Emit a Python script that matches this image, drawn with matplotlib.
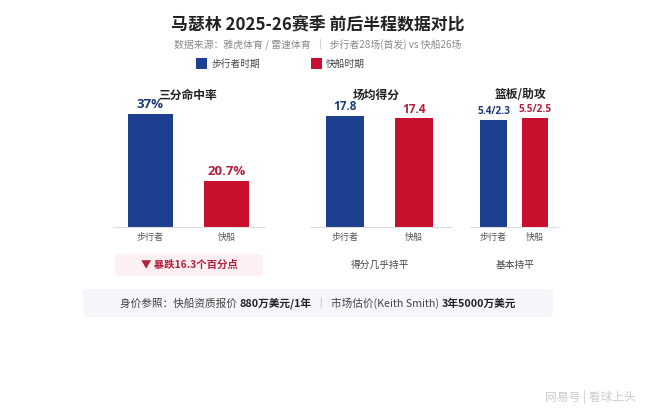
import matplotlib
matplotlib.use('Agg')
import matplotlib.pyplot as plt
from matplotlib.patches import FancyBboxPatch, Rectangle

plt.rcParams['font.family'] = ['Noto Sans CJK SC', 'DejaVu Sans']

# datos
equipos = ['步行者', '快船']
triples = [37, 20.7]
puntos = [17.8, 17.4]
rebotes = [5.4, 5.5]
asistencias = [2.3, 2.5]
etiquetas_triples = ['37%', '20.7%']
etiquetas_puntos = ['17.8', '17.4']
etiquetas_reb = ['%.1f/%.1f' % (r, a) for r, a in zip(rebotes, asistencias)]
leyenda = ['步行者时期', '快船时期']

AZUL = '#1d3f8f'
ROJO = '#c8102e'
AZUL_TXT = '#1e3a78'
ROJO_TXT = '#b3203f'

W, H = 660, 418
fig = plt.figure(figsize=(W / 100, H / 100), dpi=100)
fig.patch.set_facecolor('white')


def fx(x):
    return x / W


def fy(y):
    return 1 - y / H


def ejes(x0, x1, y0, y1):
    return fig.add_axes([fx(x0), fy(y1), (x1 - x0) / W, (y1 - y0) / H])


# titulo
fig.text(fx(318), fy(24), '马瑟林 2025-26赛季 前后半程数据对比', ha='center', va='center',
         fontsize=12.2, fontweight='bold', color='#222222')
fig.text(fx(318), fy(45), '数据来源：雅虎体育 / 雷速体育  ｜  步行者28场(首发) vs 快船26场',
         ha='center', va='center', fontsize=7.1, color='#8a8a8a')

# leyenda
for xs, col, txt in [(196, AZUL, leyenda[0]), (311, ROJO, leyenda[1])]:
    fig.patches.append(Rectangle((fx(xs), fy(69)), 11 / W, 11 / H, transform=fig.transFigure,
                                 facecolor=col, edgecolor='none'))
    fig.text(fx(xs + 15), fy(63.5), txt, ha='left', va='center', fontsize=7, color='#444444')


def panel(ax, valores, etiquetas, ylim, xlim, ancho, tam):
    ax.bar([0, 1], valores, width=ancho, color=[AZUL, ROJO])
    ax.set_ylim(*ylim)
    ax.set_xlim(*xlim)
    for s in ['top', 'right', 'left']:
        ax.spines[s].set_visible(False)
    ax.spines['bottom'].set_color('#dddddd')
    ax.set_yticks([])
    ax.set_xticks([0, 1])
    ax.set_xticklabels(equipos, fontsize=6.5, color='#555555')
    ax.tick_params(axis='x', length=0, pad=4)
    ax.patch.set_alpha(0)
    for i, (v, t) in enumerate(zip(valores, etiquetas)):
        ax.annotate(t, (i, v), xytext=(0, 2), textcoords='offset points', ha='center',
                    va='bottom', fontsize=tam, fontweight='bold',
                    family=['Open Sans', 'Noto Sans CJK SC'],
                    color=AZUL_TXT if i == 0 else ROJO_TXT, annotation_clip=False)


ax1 = ejes(113, 265, 100, 227)
panel(ax1, triples, etiquetas_triples, (9.5, 40.4), (-0.49, 1.50), 0.59, 9.5)
ax2 = ejes(310, 452, 100, 227)
panel(ax2, puntos, etiquetas_puntos, (0, 20.36), (-0.51, 1.56), 0.555, 8.5)
ax3 = ejes(470, 558, 100, 227)
panel(ax3, rebotes, etiquetas_reb, (0, 6.41), (-0.566, 1.554), 0.65, 7.2)

# titulos de panel
for xc, t in [(188, '三分命中率'), (376, '场均得分'), (521, '篮板/助攻')]:
    fig.text(fx(xc), fy(95), t, ha='center', va='center', fontsize=8.5, fontweight='bold',
             color='#222222')

# notas
fig.patches.append(FancyBboxPatch((fx(115), fy(276)), 148 / W, 22 / H,
                                  boxstyle='round,pad=0,rounding_size=0.006',
                                  transform=fig.transFigure, facecolor='#fdf0f2',
                                  edgecolor='none'))
fig.text(fx(189), fy(265), '▼ 暴跌16.3个百分点', ha='center', va='center', fontsize=7.5,
         fontweight='bold', color=ROJO_TXT)
fig.text(fx(380), fy(265), '得分几乎持平', ha='center', va='center', fontsize=7, color='#444444')
fig.text(fx(515), fy(265), '基本持平', ha='center', va='center', fontsize=7, color='#444444')

# caja inferior
fig.patches.append(FancyBboxPatch((fx(83), fy(317)), 470 / W, 28 / H,
                                  boxstyle='round,pad=0,rounding_size=0.008',
                                  transform=fig.transFigure, facecolor='#f5f6f9',
                                  edgecolor='none'))
segmentos = [('身价参照：快船资质报价 ', 'normal', '#444444'),
             ('880万美元/1年', 'bold', '#222222'),
             ('  ｜  ', 'normal', '#999999'),
             ('市场估价(Keith Smith) ', 'normal', '#444444'),
             ('3年5000万美元', 'bold', '#222222')]
render = fig.canvas.get_renderer()
textos = []
for s, peso, col in segmentos:
    t = fig.text(0, fy(303.5), s, ha='left', va='center', fontsize=7.7, fontweight=peso, color=col)
    textos.append(t)
anchos = [t.get_window_extent(render).width for t in textos]
x = 318 - sum(anchos) / 2
for t, a in zip(textos, anchos):
    t.set_x(fx(x))
    x += a

# marca de agua
fig.text(fx(590), fy(397), '网易号 | 看球上头', ha='center', va='center', fontsize=8.5,
         color='#cccccc')

fig.savefig('out.png', dpi=100)
